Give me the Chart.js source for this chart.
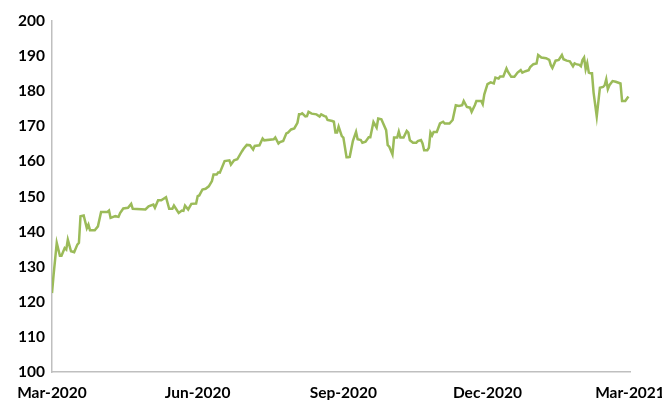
<!DOCTYPE html>
<html lang="en">
<head>
    <meta charset="UTF-8">
    <title>Price index Mar-2020 to Mar-2021</title>
    <script src="https://cdn.jsdelivr.net/npm/chart.js@4.4.1/dist/chart.umd.min.js"></script>
    <style>
        html, body {
            margin: 0;
            padding: 0;
            background: #fff;
            overflow: hidden;
        }
        canvas {
            display: block;
        }
    </style>
</head>
<body>

<canvas id="chartJSContainer" width="662" height="400"></canvas>

<script>
    // days since 1 Mar 2020
    const days = [0, 1, 3, 5, 6, 8, 9, 10, 12, 14, 16, 17, 18, 20, 22, 23, 24, 27, 29, 31, 35, 36, 37, 40, 42, 43, 45, 48, 50, 51, 59, 61,
        64, 65, 67, 69, 72, 74, 76, 77, 80, 82, 83, 84, 86, 88, 91, 92, 93, 95, 97, 99, 101, 102, 104, 105, 106, 109, 112, 113, 115, 117, 120, 121, 123, 125,
        127, 128, 131, 133, 134, 140, 141, 143, 144, 146, 148, 149, 151, 153, 155, 156, 157, 158, 160, 161, 162, 164, 167, 169, 170, 172, 173, 174, 177, 178, 179, 180, 181, 183, 184, 186, 187, 188,
        190, 192, 193, 195, 196, 198, 200, 201, 203, 205, 206, 208, 211, 212, 213, 215, 216, 218, 219, 220, 222, 224, 225, 226, 228, 230, 231, 233, 234, 235, 237, 238, 239, 240, 241, 243, 245, 247, 248, 251,
        253, 255, 257, 259, 260, 262, 264, 265, 267, 268, 271, 272, 273, 275, 277, 279, 280, 282, 283, 285, 287, 288, 290, 292, 294, 296, 297, 299, 301, 302, 304, 306, 307, 309, 312, 314,
        315, 316, 318, 320, 322, 323, 325, 327, 329, 330, 331, 333, 334, 335, 336, 337, 338, 339, 340, 341, 342, 344, 346, 348, 349, 350, 351, 352, 354, 356, 359, 360, 362, 364];
    const values = [122.5, 127.7, 136.8, 133.1, 133.1, 135.3, 134.9, 137.7, 134.4, 134.1, 136.3, 136.8, 144.4, 144.6, 141.0, 142.0, 140.4, 140.4, 141.5, 145.6, 145.6, 146.0, 143.9, 144.4, 144.2, 145.3, 146.6, 146.8, 147.9, 146.5, 146.3, 147.2,
        147.7, 146.8, 148.9, 148.9, 149.8, 146.5, 146.5, 147.4, 145.3, 146.0, 145.9, 147.4, 146.3, 147.9, 148.0, 150.1, 150.3, 152.0, 152.2, 152.9, 154.4, 156.3, 156.3, 156.9, 156.8, 160.1, 160.3, 159.1, 160.3, 160.6, 162.9, 163.6, 164.7, 164.6,
        163.4, 164.4, 164.6, 166.5, 166.0, 166.3, 166.8, 165.1, 165.5, 165.8, 168.0, 168.2, 169.1, 169.4, 171.0, 173.4, 173.4, 173.7, 172.8, 172.9, 174.1, 173.6, 173.4, 172.8, 173.4, 172.9, 172.8, 171.8, 171.5, 171.3, 168.2, 168.2, 169.9, 167.2, 166.8, 161.2, 161.2, 161.3,
        165.8, 168.4, 166.3, 166.1, 165.3, 165.6, 166.9, 166.9, 171.2, 169.6, 172.2, 172.0, 168.9, 164.6, 164.2, 162.0, 166.8, 166.8, 168.5, 166.8, 166.8, 168.7, 168.2, 166.0, 165.3, 165.3, 165.8, 166.1, 165.1, 163.2, 163.2, 163.9, 168.2, 167.4, 168.4, 168.4, 170.8, 171.3, 170.8, 170.8,
        171.8, 176.0, 175.8, 176.0, 177.2, 175.5, 175.3, 174.1, 176.0, 177.2, 177.2, 176.3, 179.1, 182.0, 182.5, 182.2, 183.9, 183.6, 184.2, 184.2, 186.5, 185.5, 184.1, 184.1, 185.3, 186.0, 185.3, 185.7, 186.0, 186.9, 187.7, 187.9, 190.3, 189.6, 189.4, 188.9,
        187.4, 186.6, 188.7, 188.9, 190.3, 189.1, 188.7, 188.5, 187.1, 187.9, 187.7, 187.5, 187.1, 188.9, 189.6, 186.3, 188.0, 185.3, 185.1, 185.1, 179.6, 172.8, 181.0, 181.2, 181.7, 183.4, 180.6, 181.7, 182.9, 182.7, 182.2, 177.2, 177.2, 178.5];

    const tickDays = [0, 92, 184, 275, 365];
    const tickLabels = ['Mar-2020', 'Jun-2020', 'Sep-2020', 'Dec-2020', 'Mar-2021'];
    const yTicks = [100, 110, 120, 130, 140, 150, 160, 170, 180, 190, 200];

    const points = days.map((d, i) => ({ x: d, y: values[i] }));
    const tickFont = { family: 'Lato, "Open Sans", sans-serif', size: 15.5, weight: 'bold' };

    const options = {
        type: 'line',
        data: {
            datasets: [{
                data: points,
                borderColor: '#9BBB59',
                borderWidth: 2.5,
                pointRadius: 0,
                tension: 0,
                fill: false
            }]
        },
        options: {
            responsive: false,
            animation: false,
            layout: {
                padding: { top: 21, right: 0, left: 0, bottom: 0 }
            },
            plugins: {
                legend: { display: false },
                tooltip: { enabled: false }
            },
            scales: {
                x: {
                    type: 'linear',
                    min: 0,
                    max: 365,
                    afterBuildTicks: function(scale) {
                        scale.ticks = tickDays.map(v => ({ value: v }));
                    },
                    afterFit: function(scale) {
                        scale.height = 28;
                        scale.paddingRight = 32;
                    },
                    ticks: {
                        autoSkip: false,
                        maxRotation: 0,
                        padding: 12,
                        color: '#000',
                        font: tickFont,
                        callback: function(value) {
                            const i = tickDays.indexOf(value);
                            return i >= 0 ? tickLabels[i] : '';
                        }
                    },
                    grid: { display: false, drawTicks: false },
                    border: { display: true, color: '#BFBFBF', width: 1.5 }
                },
                y: {
                    min: 100,
                    max: 200,
                    afterBuildTicks: function(scale) {
                        scale.ticks = yTicks.map(v => ({ value: v }));
                    },
                    afterFit: function(scale) {
                        scale.width = 52;
                    },
                    ticks: {
                        padding: 7,
                        color: '#000',
                        font: tickFont
                    },
                    grid: { display: false, drawTicks: false },
                    border: { display: true, color: '#BFBFBF', width: 1.5 }
                }
            }
        }
    };

    const ctx = document.getElementById('chartJSContainer').getContext('2d');
    const chart = new Chart(ctx, options);
</script>

</body>
</html>
